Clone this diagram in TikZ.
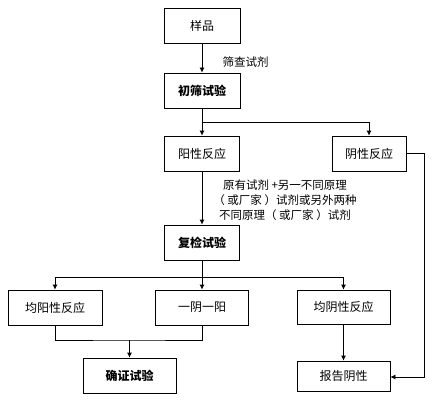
\documentclass[tikz,border=0pt]{standalone}
\usepackage{fontspec}
\setmainfont{Noto Sans CJK SC}
\usetikzlibrary{arrows.meta}
\begin{document}
\begin{tikzpicture}[x=1pt,y=-1pt,
  box/.style={draw,line width=0.8pt,inner sep=0pt,font=\fontsize{12}{14}\selectfont},
  bbox/.style={box,font=\fontsize{12}{14}\selectfont\bfseries},
  ln/.style={line width=0.8pt},
  arr/.style={ln,-{Latex[length=5pt,width=5pt]}},
  lab/.style={font=\fontsize{11.5}{15}\selectfont,inner sep=0pt}]
\useasboundingbox (0,0) rectangle (434,404);
\node[box,minimum width=76pt,minimum height=35pt] (yp) at (202,26) {样品};
\node[bbox,minimum width=76pt,minimum height=35pt] (cs) at (202,90.5) {初筛试验};
\node[box,minimum width=75pt,minimum height=35pt] (yang) at (202,153.5) {阳性反应};
\node[box,minimum width=74pt,minimum height=35pt] (yin) at (369,153.5) {阴性反应};
\node[bbox,minimum width=75pt,minimum height=35pt] (fj) at (202,242.5) {复检试验};
\node[box,minimum width=94pt,minimum height=35pt] (jy) at (55,307.5) {均阳性反应};
\node[box,minimum width=93pt,minimum height=35pt] (yy) at (202,307.5) {一阴一阳};
\node[box,minimum width=93pt,minimum height=34pt] (jn) at (343.5,307) {均阴性反应};
\node[bbox,minimum width=93pt,minimum height=35pt] (qz) at (129.5,375.5) {确证试验};
\node[box,minimum width=93pt,minimum height=30pt] (bg) at (343.5,376) {报告阴性};
\node[lab] (l1) at (245.5,62) {筛查试剂};
\node[lab,align=center] (l2) at (285,200) {原有试剂 +另一不同原理\\（ 或厂家 ）试剂或另外两种\\不同原理（ 或厂家 ）试剂};
\coordinate (j1) at (202,122);
\coordinate (j2) at (202,277);
\coordinate (j3) at (129.5,340);
\coordinate (c1) at (424,377);
\draw[arr] (yp) -- (cs);
\draw[ln] (cs.south) -- (j1);
\draw[arr] (j1) -- (yang);
\draw[arr] (j1) -| (yin.north);
\draw[arr] (yang) -- (fj);
\draw[arr] (yin.east) -| (c1) -- (bg.east |- c1);
\draw[ln] (fj.south) -- (j2);
\draw[arr] (j2) -| (jy.north);
\draw[arr] (j2) -- (yy.north);
\draw[arr] (j2) -| (jn.north);
\draw[ln] (jy.south) |- (j3) -| (yy.south);
\draw[arr] (j3) -- (qz.north);
\draw[arr] (jn) -- (bg);
\end{tikzpicture}
\end{document}
